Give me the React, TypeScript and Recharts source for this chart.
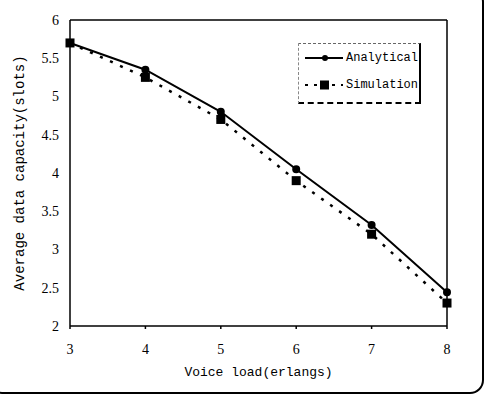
import React from 'react'
import { LineChart, Line, XAxis, YAxis, ReferenceLine, Label } from 'recharts'

const loads = [3, 4, 5, 6, 7, 8]
const analytical = [5.7, 5.35, 4.8, 4.05, 3.32, 2.44]
const simulation = [5.7, 5.25, 4.7, 3.9, 3.2, 2.3]
const yTicks = [2, 2.5, 3, 3.5, 4, 4.5, 5, 5.5, 6]

const data = loads.map((x, i) => ({ x, analytical: analytical[i], simulation: simulation[i] }))

const tickFont = { fontFamily: 'Liberation Serif', fontSize: 14, fill: '#000' }
const labelFont = { fontFamily: 'Liberation Mono', fontSize: 13, fill: '#000' }

// small filled square marker for the simulation series
const SquareDot = (props: any) => {
  const { cx, cy } = props
  if (cx == null || cy == null) return null
  return <rect x={cx - 4.5} y={cy - 4.5} width={9} height={9} fill="#000" />
}

function LegendBox() {
  return (
    <div
      style={{
        position: 'absolute',
        left: 298,
        top: 43,
        width: 120,
        height: 58,
        borderTop: '1px dashed #666',
        borderLeft: '1px dashed #888',
        borderRight: '2px solid #000',
        borderBottom: '2px dashed #000',
        fontFamily: 'Liberation Mono',
        fontSize: 12,
        color: '#000',
      }}
    >
      <div style={{ position: 'absolute', left: 4, top: 7, display: 'flex', alignItems: 'center' }}>
        <svg width={42} height={14}>
          <line x1={2} y1={7} x2={40} y2={7} stroke="#000" strokeWidth={2} />
          <circle cx={22} cy={7} r={3} fill="#000" />
        </svg>
        <span style={{ marginLeft: 1 }}>Analytical</span>
      </div>
      <div style={{ position: 'absolute', left: 4, top: 34, display: 'flex', alignItems: 'center' }}>
        <svg width={42} height={14}>
          <line x1={2} y1={7} x2={40} y2={7} stroke="#000" strokeWidth={2} strokeDasharray="3 6" />
          <rect x={17} y={2.5} width={9} height={9} fill="#000" />
        </svg>
        <span style={{ marginLeft: 1 }}>Simulation</span>
      </div>
    </div>
  )
}

export default function App() {
  return (
    <div style={{ position: 'absolute', left: 0, top: 0, width: 485, height: 396, overflow: 'hidden', background: '#fff' }}>
      <div
        style={{
          position: 'absolute',
          left: -12,
          top: -12,
          width: 492,
          height: 402,
          border: '2.5px solid #000',
          borderRadius: 14,
        }}
      />
      <LineChart width={485} height={396} data={data} margin={{ top: 20, right: 38, bottom: 30, left: 0 }}>
        <XAxis
          dataKey="x"
          type="number"
          domain={[3, 8]}
          ticks={loads}
          height={40}
          stroke="#000"
          strokeWidth={1.5}
          tickSize={3}
          tick={tickFont}
          tickMargin={15}
        >
          <Label value="Voice load(erlangs)" position="insideBottom" offset={-10} style={labelFont} />
        </XAxis>
        <YAxis
          type="number"
          domain={[2, 6]}
          ticks={yTicks}
          width={70}
          stroke="#000"
          strokeWidth={1.5}
          tickLine={false}
          tick={tickFont}
          tickMargin={5}
        >
          <Label
            value="Average data capacity(slots)"
            angle={-90}
            position="insideLeft"
            offset={19}
            style={{ ...labelFont, fontSize: 14, textAnchor: 'middle' }}
          />
        </YAxis>
        <ReferenceLine y={6} stroke="#000" strokeWidth={1.5} />
        <ReferenceLine x={8} stroke="#000" strokeWidth={1.5} />
        <Line
          dataKey="simulation"
          stroke="#000"
          strokeWidth={2.5}
          strokeDasharray="3 8"
          dot={<SquareDot />}
          activeDot={false}
          isAnimationActive={false}
        />
        <Line
          dataKey="analytical"
          stroke="#000"
          strokeWidth={2}
          dot={{ r: 3, fill: '#000', stroke: '#000' }}
          activeDot={false}
          isAnimationActive={false}
        />
      </LineChart>
      <LegendBox />
    </div>
  )
}
